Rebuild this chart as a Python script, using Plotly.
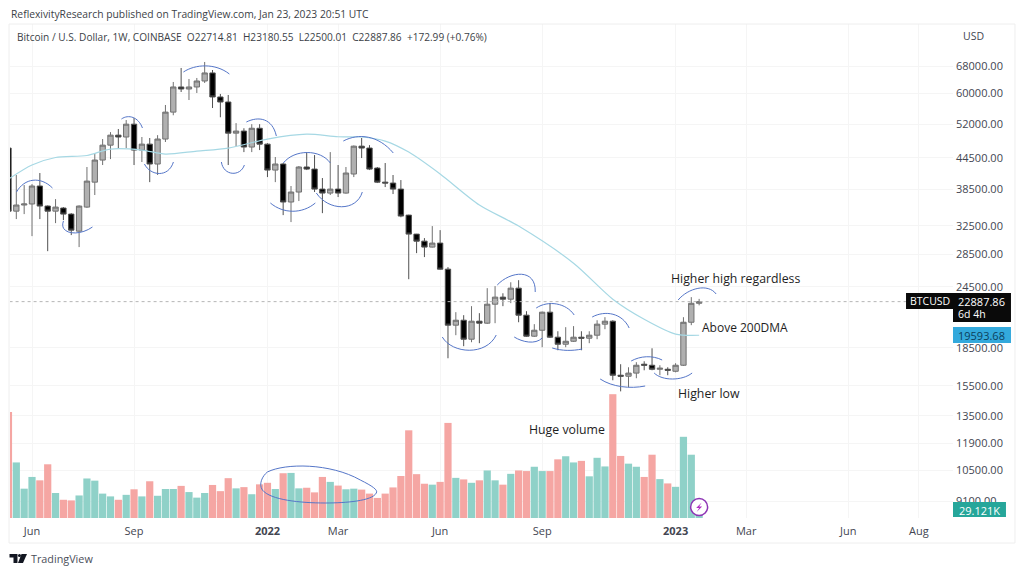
# %%
import pandas as pd
import plotly.graph_objects as go

# %%
# weekly BTCUSD
week_start = '2021-05-17'
n_weeks = 89

open_ = [46540,34770,35770,35940,39050,35600,34770,35270,34300,31700,35430,39760,44030,47170,49400,48980,51970,46110,47390,43230,48520,54950,61720,61140,61720,63450,65850,58930,57580,49860,50340,46760,51000,47390,42040,43230,36270,37980,42640,42230,38500,37800,38500,37800,41280,46950,46540,42430,39760,39590,38500,34140,31270,30270,29450,30000,26595,20530,21004,19240,20910,20720,22620,23370,23150,24360,21500,19510,20055,21800,19420,18800,19060,19420,19330,19600,20625,20910,16290,16215,16450,17140,17060,16745,16745,16590,17060,20810,22714.81]
high = [47000,41090,39230,39400,41470,35700,36760,35430,34450,35700,42640,45480,48520,50100,50820,52970,53470,48980,48750,49400,56790,63160,67380,64040,64340,69280,66754,59760,59480,52220,51000,51970,51970,47600,44650,43430,39050,42830,45680,45060,40520,45680,43030,42640,47100,48750,47170,42640,43430,41090,40140,34200,31300,30700,32450,31850,26845,21800,21500,22415,21700,24360,24590,23790,25030,25273,21900,20625,21860,22730,19960,20340,20440,19960,19960,21004,21300,21004,17140,16900,17300,17375,18450,17060,16900,17220,21300,23370,23180.55]
low = [34000,33520,34300,30980,33520,28900,32900,33360,31130,29450,35300,37460,43030,44230,46330,46540,43030,43630,39760,41090,47860,54160,60300,58106,60030,62870,56000,53660,43030,46950,45680,45680,46110,40700,39760,34140,33060,36430,42040,37980,34450,37460,37110,37700,40700,44440,42040,39590,38860,37630,33800,25390,28640,28120,29400,26550,17620,19600,18630,18975,18890,20650,20720,22415,22730,20810,19450,19450,18540,19350,18283,18540,19000,18283,18890,19240,20150,15914,15120,15410,16065,16668,16668,16290,16290,16510,17000,20530,22500.01]
close = [34770,35770,35940,39050,35600,34770,35430,34300,31850,35600,39950,44030,47170,49400,48980,51970,46110,47390,43230,48520,54950,61720,61140,61720,63450,65850,58930,57580,49860,50340,46760,51000,47390,42040,43230,36270,37980,42640,42230,38500,37800,38500,37800,41470,46950,46540,42230,39760,39590,38500,33990,31270,30270,29450,30000,26595,20530,21004,19240,20910,20720,22620,23370,23150,24360,21500,19510,20055,21800,19420,18800,19060,19420,19330,19600,20625,20910,16290,16215,16450,17060,17060,16745,16825,16668,17060,20810,22715,22887.86]

# volume in thousands of BTC
volume = [343,180,95,133,122,174,81,59,57,73,128,121,79,70,59,75,93,70,119,72,94,94,104,84,66,81,107,87,129,96,100,77,109,114,94,145,146,96,98,83,133,117,105,93,95,92,79,65,79,99,136,284,142,111,108,117,308,130,125,114,122,154,122,108,143,154,152,166,152,152,190,200,180,185,135,195,167,401,201,176,166,133,205,126,112,101,263,205,29.121]

# 200 day moving average
ma_dates = ['2021-05-17','2021-06-07','2021-06-28','2021-07-26','2021-08-16','2021-09-13','2021-10-04','2021-11-01','2021-11-29','2022-01-03','2022-02-07','2022-03-07','2022-03-28','2022-04-18','2022-05-09','2022-06-06','2022-07-11','2022-08-15','2022-10-03','2022-11-07','2022-12-05','2023-01-02','2023-01-23']
ma_values = [40320,43030,44550,44960,46330,46110,45270,45900,46540,48520,49630,49040,48980,48070,45680,41280,35770,32450,27340,23150,21100,19700,19593.68]

price_ticks = [68000,60000,52000,44500,38500,32500,28500,24500,18500,15500,13500,11900,10500,9100]
date_ticks = ['2021-06-07','2021-09-06','2022-01-03','2022-03-07','2022-06-06','2022-09-05','2023-01-02','2023-03-06','2023-06-05','2023-08-07']
date_labels = ['Jun','Sep','<b>2022</b>','Mar','Jun','Sep','<b>2023</b>','Mar','Jun','Aug']

last_close = 22887.86
last_ma = 19593.68

# the hand drawn curves on the chart, in picture pixels: start then cubic control triples
arcs = [
    [(16,192),(24,178),(40,176),(52,188)],
    [(63,221),(58,234),(78,237),(92,227)],
    [(121,119),(128,114),(138,117),(142,128)],
    [(144,164),(150,176),(168,178),(173,162)],
    [(183,72),(195,64),(215,63),(229,74)],
    [(221,162),(223,176),(240,177),(244,165)],
    [(246,122),(258,116),(272,118),(276,136)],
    [(283,163),(294,149),(320,149),(330,163)],
    [(270,203),(283,214),(302,214),(315,203)],
    [(316,193),(328,211),(356,212),(362,192)],
    [(343,141),(358,133),(378,135),(393,153)],
    [(442,337),(452,354),(486,356),(496,335)],
    [(497,285),(510,271),(536,268),(535,292)],
    [(514,337),(522,342),(535,345),(542,338)],
    [(536,308),(548,300),(566,303),(574,315)],
    [(552,348),(562,351),(572,351),(582,349)],
    [(592,317),(605,310),(622,313),(629,328)],
    [(600,379),(612,387),(630,389),(645,386)],
    [(631,361),(640,356),(652,355),(662,360)],
    [(654,373),(662,381),(682,381),(692,373)],
    [(678,300),(688,288),(708,283),(716,294)],
    [(267,472),(285,463),(330,463),(360,480),(372,486),(378,490),(376,493),(372,501),(345,503),(325,503),(300,503),(270,500),(262,490),(258,484),(262,476),(267,472)],
]

dates = pd.date_range(week_start, periods=n_weeks, freq='7D')

# %%
# plot area in picture pixels. the page body has an 8px margin so the figure is 16px smaller
PAGE = 8
W, H = 1024 - 2*PAGE, 574 - 2*PAGE
left, right, top, bottom = 9.5, 953, 24, 518
FONT = 'Open Sans'

def px(x):
    return (x - left) / (right - left)

def py(y):
    return (bottom - y) / (bottom - top)

def curve(points):
    d = 'M{},{}'.format(px(points[0][0]), py(points[0][1]))
    for i in range(1, len(points), 3):
        d += ' C' + ' '.join('{},{}'.format(px(a), py(b)) for a, b in points[i:i+3])
    return d

def box(x0, y0, x1, y1, fill):
    return dict(type='rect', xref='paper', yref='paper', x0=px(x0), x1=px(x1), y0=py(y0), y1=py(y1)
                , fillcolor=fill, line_width=0, layer='above')

def label(x, y, text, size=11, color='#434651', anchor='left'):
    return dict(xref='paper', yref='paper', x=px(x), y=py(y), text=text, showarrow=False
                , xanchor=anchor, yanchor='middle', borderpad=0
                , font=dict(family=FONT, size=size, color=color))

# %%
vol_colors = ['#8fd1c8' if c >= o else '#f5a6a3' for o, c in zip(open_, close)]

fig = go.Figure()
fig.add_trace(go.Bar(x=dates, y=volume, yaxis='y2', marker_color=vol_colors, marker_line_width=0, hoverinfo='skip'))
fig.add_trace(go.Scatter(x=['2021-05-18','2023-09-06'], y=[last_close, last_close], mode='lines', hoverinfo='skip'
                         , line=dict(color='#b5b5b5', width=1, dash='dot')))
fig.add_trace(go.Scatter(x=ma_dates, y=ma_values, mode='lines', hoverinfo='skip'
                         , line=dict(color='#a6d8e4', width=1.2, shape='spline', smoothing=0.8)))
fig.add_trace(go.Candlestick(x=dates, open=open_, high=high, low=low, close=close, whiskerwidth=0, hoverinfo='skip'
                             , increasing=dict(fillcolor='#b0b0b0', line=dict(color='#707070', width=1))
                             , decreasing=dict(fillcolor='#000000', line=dict(color='#505050', width=1))))

shapes = []
for a in arcs:
    shapes.append(dict(type='path', xref='paper', yref='paper', path=curve(a), layer='above'
                       , line=dict(color='#5576c8', width=1)))
# outer frame
shapes.append(dict(type='rect', xref='paper', yref='paper', x0=px(8.5), x1=px(1015), y0=py(24), y1=py(543)
                   , line=dict(color='#eeeeee', width=1)))
# price tags on the axis
shapes.append(box(906, 293, 953, 309, '#0a0a0a'))
shapes.append(box(953, 293, 1011, 322, '#0a0a0a'))
shapes.append(box(953, 327, 1011, 343, '#33a9dc'))
shapes.append(box(953, 502, 1006, 517, '#26a69a'))
# lightning badge
shapes.append(dict(type='circle', xref='paper', yref='paper', x0=px(690.5), x1=px(707.5), y0=py(498.5), y1=py(515.5)
                   , fillcolor='white', line=dict(color='#8e35b5', width=1.5), layer='above'))
bolt = [(701.5,502.5),(696,508),(699,508),(696.5,512),(702,506.5),(699,506.5)]
shapes.append(dict(type='path', xref='paper', yref='paper', layer='above', fillcolor='#b02fc4', line_width=0
                   , path='M' + ' L'.join('{},{}'.format(px(a), py(b)) for a, b in bolt) + ' Z'))
# TradingView logo
for poly in [[(9,554),(17,554),(17,563),(13,563),(13,557.5),(9,557.5)]
             , [(21,554),(26.5,554),(22.5,563),(17.5,563)]]:
    shapes.append(dict(type='path', xref='paper', yref='paper', fillcolor='#131722', line_width=0
                       , path='M' + ' L'.join('{},{}'.format(px(a), py(b)) for a, b in poly) + ' Z'))
shapes.append(dict(type='circle', xref='paper', yref='paper', x0=px(17.5), x1=px(20.5), y0=py(554), y1=py(557)
                   , fillcolor='#131722', line_width=0))

annotations = [
    label(9, 14, 'ReflexivityResearch published on TradingView.com, Jan 23, 2023 20:51 UTC', size=10.3, color='#3c3f47'),
    label(16, 37, 'Bitcoin / U.S. Dollar, 1W, COINBASE&#160;&#160;O22714.81&#160;&#160;H23180.55&#160;&#160;L22500.01&#160;&#160;C22887.86&#160;&#160;+172.99 (+0.76%)', size=10.1, color='#3c3f47'),
    label(962, 36, 'USD', size=10.5),
    label(670, 278, 'Higher high regardless', size=12.3, color='#1e1e1e'),
    label(701, 327, 'Above 200DMA', size=12, color='#1e1e1e'),
    label(677, 393, 'Higher low', size=12.3, color='#1e1e1e'),
    label(528, 429, 'Huge volume', size=12.3, color='#1e1e1e'),
    label(929.5, 301, 'BTCUSD', size=10.5, color='white', anchor='center'),
    label(982, 301, '22887.86', size=11, color='white', anchor='center'),
    label(972, 314, '6d 4h', size=10.5, color='white', anchor='center'),
    label(982, 335, '19593.68', size=11, color='#0c3f5c', anchor='center'),
    label(980, 510, '29.121K', size=11, color='white', anchor='center'),
    label(30, 558, 'TradingView', size=10.8, color='#4a4e59'),
]

grid = '#f5f5f5'
fig.update_layout(
    width=W, height=H, autosize=False
    , margin=dict(l=left-PAGE, r=W-(right-PAGE), t=top-PAGE, b=H-(bottom-PAGE), pad=0, autoexpand=False)
    , paper_bgcolor='white', plot_bgcolor='white'
    , showlegend=False, bargap=0.08, dragmode=False
    , boxgap=0.15, boxgroupgap=0.2
    , font=dict(family=FONT, size=11, color='#434651')
    , xaxis=dict(type='date', range=['2021-05-18 09:00','2023-09-06 10:00'], rangeslider_visible=False
                 , tickmode='array', tickvals=date_ticks, ticktext=date_labels, ticks='', showline=False
                 , ticklabelstandoff=5
                 , showgrid=True, gridcolor=grid, gridwidth=1, zeroline=False, tickfont=dict(size=11, color='#434651'))
    , yaxis=dict(type='log', side='right', range=[3.9254, 4.9168]
                 , tickmode='array', tickvals=price_ticks, ticktext=['{:.2f}'.format(p) for p in price_ticks], ticks=''
                 , ticklabelstandoff=2
                 , showgrid=True, gridcolor=grid, gridwidth=1, zeroline=False, showline=False
                 , tickfont=dict(size=11, color='#434651'))
    , yaxis2=dict(overlaying='y', side='left', range=[0, 1600], visible=False, showgrid=False)
    , shapes=shapes, annotations=annotations
)

fig.write_html("out.html")
